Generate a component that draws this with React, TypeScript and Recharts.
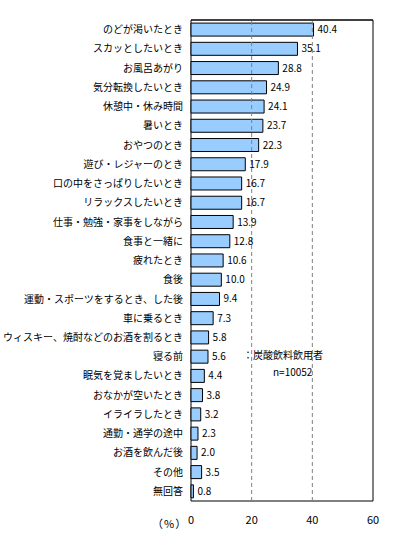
import { BarChart, Bar, XAxis, YAxis, ReferenceLine, ReferenceArea, LabelList } from 'recharts';

const categories = [
  'のどが渇いたとき',
  'スカッとしたいとき',
  'お風呂あがり',
  '気分転換したいとき',
  '休憩中・休み時間',
  '暑いとき',
  'おやつのとき',
  '遊び・レジャーのとき',
  '口の中をさっぱりしたいとき',
  'リラックスしたいとき',
  '仕事・勉強・家事をしながら',
  '食事と一緒に',
  '疲れたとき',
  '食後',
  '運動・スポーツをするとき、した後',
  '車に乗るとき',
  'ウィスキー、焼酎などのお酒を割るとき',
  '寝る前',
  '眠気を覚ましたいとき',
  'おなかが空いたとき',
  'イライラしたとき',
  '通勤・通学の途中',
  'お酒を飲んだ後',
  'その他',
  '無回答',
];

const values = [
  40.4, 35.1, 28.8, 24.9, 24.1, 23.7, 22.3, 17.9, 16.7, 16.7, 13.9, 12.8, 10.6,
  10.0, 9.4, 7.3, 5.8, 5.6, 4.4, 3.8, 3.2, 2.3, 2.0, 3.5, 0.8,
];

const xTicks = [0, 20, 40, 60];
const bandTicks = Array.from({ length: categories.length + 1 }, (_, i) => i);

const data = categories.map((name, i) => ({ name, value: values[i] }));

const font = '"Noto Sans CJK JP", "Noto Sans", sans-serif';

export default function App() {
  return (
    <div style={{ position: 'absolute', left: 0, top: 0, width: 399, height: 535, background: '#fff', fontFamily: font }}>
      <BarChart
        width={399}
        height={535}
        data={data}
        layout="vertical"
        margin={{ top: 20, right: 26, left: 0, bottom: 4 }}
        barCategoryGap="16%"
      >
        <XAxis
          type="number"
          domain={[0, 60]}
          ticks={xTicks}
          height={30}
          axisLine={false}
          tickLine={false}
          tickSize={0}
          tickMargin={15}
          tick={{ fontSize: 11, fill: '#000', fontFamily: font }}
        />
        <XAxis
          xAxisId="top"
          type="number"
          orientation="top"
          domain={[0, 60]}
          ticks={[20, 40]}
          mirror
          height={1}
          tick={false}
          tickSize={4}
          tickLine={{ stroke: '#000' }}
          axisLine={{ stroke: '#000' }}
        />
        <YAxis
          type="category"
          dataKey="name"
          width={191}
          axisLine={false}
          tickLine={false}
          tickSize={0}
          tickMargin={8}
          interval={0}
          tick={{ fontSize: 10, fill: '#000', fontFamily: font }}
        />
        <YAxis
          yAxisId="bands"
          type="number"
          domain={[0, categories.length]}
          ticks={bandTicks}
          mirror
          width={1}
          tick={false}
          tickSize={3}
          tickLine={{ stroke: '#000' }}
          axisLine={false}
        />
        <ReferenceLine x={20} stroke="#808080" strokeDasharray="4 3" />
        <ReferenceLine x={40} stroke="#808080" strokeDasharray="4 3" />
        <Bar dataKey="value" fill="#99ccff" stroke="#000" strokeWidth={1} isAnimationActive={false}>
          <LabelList
            dataKey="value"
            position="right"
            offset={4}
            formatter={(v: number) => v.toFixed(1)}
            style={{ fontSize: 10, fill: '#000', fontFamily: font }}
          />
        </Bar>
        <ReferenceArea x1={0} x2={60} fill="none" stroke="#000" strokeWidth={1} ifOverflow="visible" />
      </BarChart>
      <div style={{ position: 'absolute', left: 243, top: 349, fontSize: 10, lineHeight: '12px', color: '#000' }}>
        ：炭酸飲料飲用者
      </div>
      <div style={{ position: 'absolute', left: 273, top: 366, fontSize: 10, lineHeight: '12px', color: '#000' }}>
        n=10052
      </div>
      <div style={{ position: 'absolute', left: 152, top: 516, fontSize: 11, lineHeight: '14px', color: '#000', letterSpacing: 1 }}>
        （%）
      </div>
    </div>
  );
}
